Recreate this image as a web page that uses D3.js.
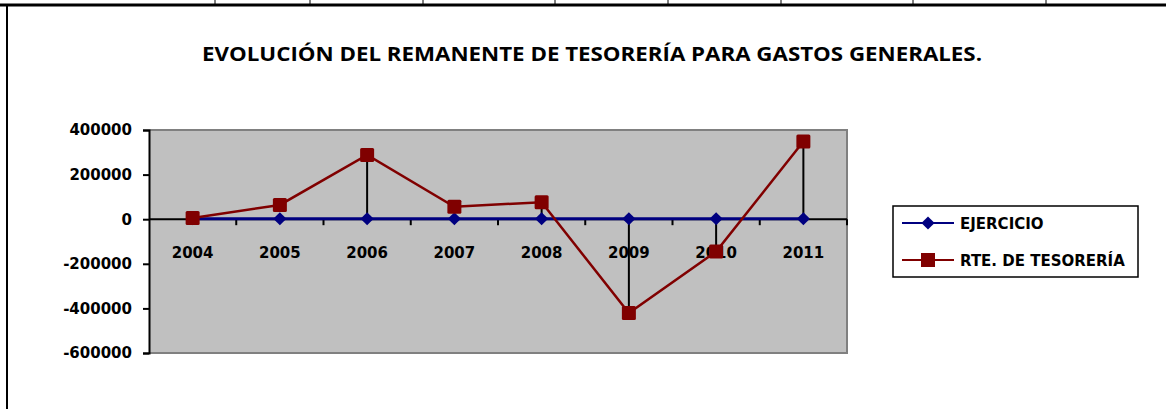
<!DOCTYPE html>
<html>
<head>
<meta charset="utf-8">
<script src="https://cdn.jsdelivr.net/npm/d3@7"></script>
<style>
  body { margin: 0; background: #fff; }
  svg { display: block; font-family: "DejaVu Sans", sans-serif; font-weight: bold; }
</style>
</head>
<body>
<svg width="1166" height="409"></svg>
<script>
// data
const years = ["2004", "2005", "2006", "2007", "2008", "2009", "2010", "2011"]
const ejercicio = [2004, 2005, 2006, 2007, 2008, 2009, 2010, 2011]
const remanente = [5000, 64000, 288000, 56000, 76000, -421000, -145000, 348000]
const dropYears = ["2006", "2008", "2009", "2010", "2011"]   // years that show a black drop line
const yTicks = [400000, 200000, 0, -200000, -400000, -600000]
const sheetCols = [215, 310, 423, 555, 668, 781, 913, 1046]  // spreadsheet column marks above

const svg = d3.select("svg")
const W = 1166

// spreadsheet cell borders round the chart
svg.append("line").attr("x1", 0).attr("x2", W).attr("y1", 5).attr("y2", 5)
    .attr("stroke", "#000").attr("stroke-width", 3)
svg.selectAll(".col").data(sheetCols).enter().append("line")
    .attr("x1", d => d).attr("x2", d => d).attr("y1", 0).attr("y2", 5)
    .attr("stroke", "#000").attr("stroke-width", 1)
svg.append("line").attr("x1", 7).attr("x2", 7).attr("y1", 5).attr("y2", 409)
    .attr("stroke", "#000").attr("stroke-width", 2)

// title (the original is stretched wide, so force its length)
svg.append("text")
    .attr("x", 592).attr("y", 61)
    .attr("text-anchor", "middle")
    .attr("font-family", "Open Sans")
    .attr("font-size", 19)
    .attr("font-weight", 700)
    .attr("textLength", 780)
    .attr("lengthAdjust", "spacingAndGlyphs")
    .attr("fill", "#000")
    .text("EVOLUCIÓN DEL REMANENTE DE TESORERÍA PARA GASTOS GENERALES.")

const pLeft = 149, pRight = 847, pTop = 130, pBottom = 353

const x = d3.scaleBand().domain(years).range([pLeft, pRight])
const y = d3.scaleLinear().domain([-600000, 400000]).range([pBottom, pTop])

// plot area
svg.append("rect")
    .attr("x", pLeft).attr("y", pTop).attr("width", pRight - pLeft).attr("height", pBottom - pTop)
    .attr("fill", "#c0c0c0")
svg.append("path")
    .attr("d", `M${pLeft},${pTop}H${pRight}V${pBottom}H${pLeft}`)
    .attr("fill", "none").attr("stroke", "#808080").attr("stroke-width", 2)

// y axis
const yAxis = svg.append("g")
    .attr("transform", `translate(${pLeft},0)`)
    .call(d3.axisLeft(y).tickValues(yTicks).tickFormat(d => String(d)).tickSize(6).tickPadding(11))
yAxis.select(".domain").attr("stroke-width", 2)
yAxis.selectAll(".tick line").attr("stroke-width", 2)
yAxis.selectAll("text").attr("font-size", 15).attr("font-weight", "bold")
    .attr("font-family", "DejaVu Sans").attr("fill", "#000")

// x axis on the zero line, ticks between categories
const xAxis = svg.append("g").attr("transform", `translate(0,${y(0)})`)
xAxis.append("line").attr("x1", pLeft).attr("x2", pRight)
    .attr("stroke", "#000").attr("stroke-width", 2)
const bounds = years.slice(1).map(d => x(d)).concat([pRight])
xAxis.selectAll(".xt").data(bounds).enter().append("line")
    .attr("x1", d => d).attr("x2", d => d).attr("y1", 0).attr("y2", 6)
    .attr("stroke", "#000").attr("stroke-width", 2)

const cx = d => x(d) + x.bandwidth() / 2

// drop lines
years.forEach((yr, i) => {
    if (dropYears.includes(yr)) {
        svg.append("line")
            .attr("x1", cx(yr)).attr("x2", cx(yr))
            .attr("y1", y(ejercicio[i])).attr("y2", y(remanente[i]))
            .attr("stroke", "#000").attr("stroke-width", 2)
    }
})

// EJERCICIO series
const seriesLine = d3.line().x((d, i) => cx(years[i])).y(d => y(d))
svg.append("path").datum(ejercicio)
    .attr("d", seriesLine)
    .attr("fill", "none").attr("stroke", "#000080").attr("stroke-width", 3)

// x labels (drawn before red series so red crosses them)
svg.selectAll(".xl").data(years).enter().append("text")
    .attr("x", d => cx(d)).attr("y", 258)
    .attr("text-anchor", "middle").attr("font-size", 15).attr("fill", "#000")
    .text(d => d)

svg.selectAll(".dia").data(ejercicio).enter().append("path")
    .attr("d", d3.symbol(d3.symbolDiamond2, 110))
    .attr("transform", (d, i) => `translate(${cx(years[i])},${y(d)})`)
    .attr("fill", "#000080")

// RTE. DE TESORERÍA series
svg.append("path").datum(remanente)
    .attr("d", seriesLine)
    .attr("fill", "none").attr("stroke", "#800000").attr("stroke-width", 2.5)
svg.selectAll(".sq").data(remanente).enter().append("rect")
    .attr("x", (d, i) => cx(years[i]) - 7).attr("y", d => y(d) - 7)
    .attr("width", 14).attr("height", 14).attr("rx", 1.5)
    .attr("fill", "#800000")

// legend
const lg = svg.append("g").attr("transform", "translate(893,206)")
lg.append("rect").attr("width", 245).attr("height", 71)
    .attr("fill", "#fff").attr("stroke", "#000").attr("stroke-width", 1.5)
const legendItems = [
    { name: "EJERCICIO", color: "#000080", shape: "diamond", y: 17 },
    { name: "RTE. DE TESORERÍA", color: "#800000", shape: "square", y: 54 }
]
legendItems.forEach(it => {
    lg.append("line").attr("x1", 9).attr("x2", 61).attr("y1", it.y).attr("y2", it.y)
        .attr("stroke", it.color).attr("stroke-width", 2)
    if (it.shape === "diamond") {
        lg.append("path").attr("d", d3.symbol(d3.symbolDiamond2, 110))
            .attr("transform", `translate(35,${it.y})`).attr("fill", it.color)
    } else {
        lg.append("rect").attr("x", 28).attr("y", it.y - 7).attr("width", 14).attr("height", 14)
            .attr("fill", it.color)
    }
    lg.append("text").attr("x", 67).attr("y", it.y + 6)
        .attr("font-size", 15).attr("fill", "#000").text(it.name)
})
</script>
</body>
</html>
